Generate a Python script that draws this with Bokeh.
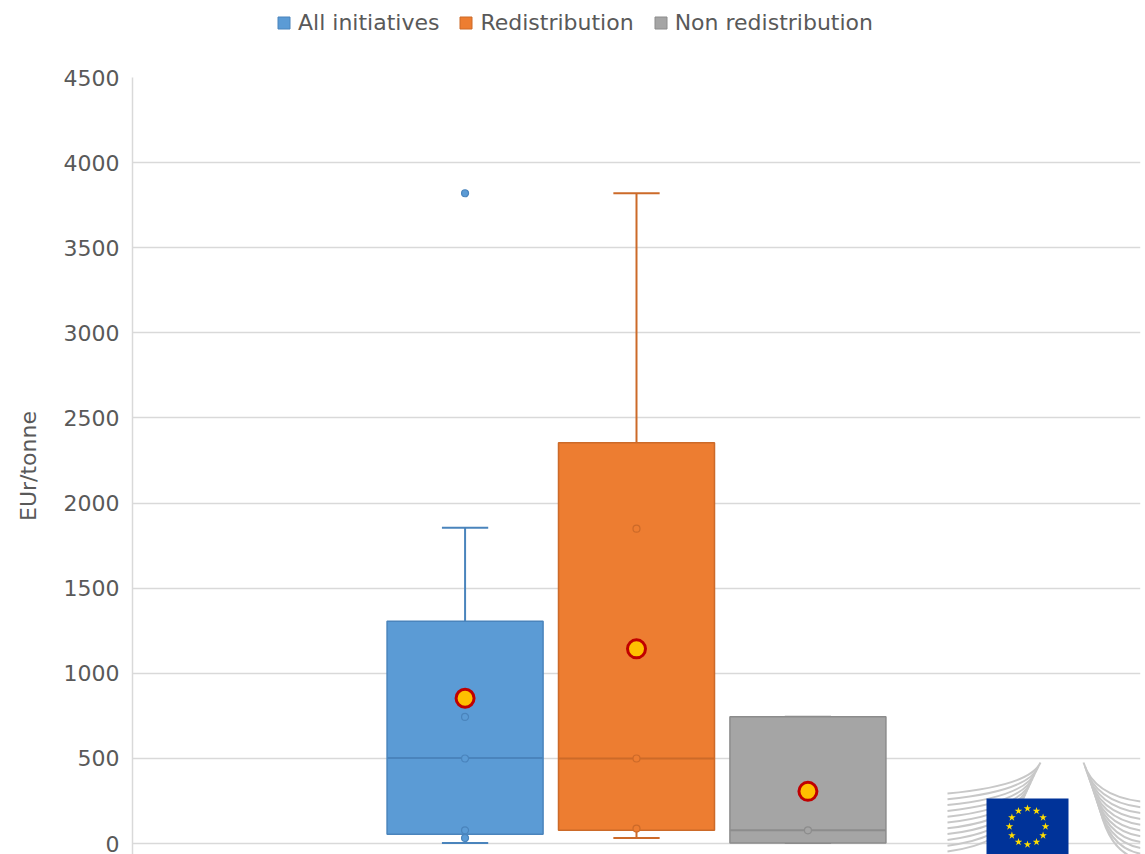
import math
from bokeh.plotting import figure
from bokeh.layouts import column
from bokeh.models import Range1d, FixedTicker, Legend, LegendItem
from bokeh.embed import file_html
from bokeh.resources import INLINE

# ---------------- data ----------------
series = ["All initiatives", "Redistribution", "Non redistribution"]
fill_colors = ["#5B9BD5", "#ED7D31", "#A5A5A5"]
line_colors = ["#4A84BC", "#CC6A29", "#8C8C8C"]

whisker_low = [3, 33, 3]
q1 = [55, 78, 3]
median = [503, 500, 78]
q3 = [1306, 2355, 745]
whisker_high = [1855, 3820, 745]
mean = [854, 1144, 307]
inner_points = [[33, 78, 500, 744], [88, 500, 1850], [78]]
outliers = [[3820], [], []]

y_ticks = [0, 500, 1000, 1500, 2000, 2500, 3000, 3500, 4000, 4500]

FONT = "DejaVu Sans"
TXT = "#595959"

X0, X1 = -0.94, 4.94
Y0, Y1 = -64, 4500

p = figure(width=1145, height=789, output_backend="svg", toolbar_location=None,
           x_range=Range1d(X0, X1), y_range=Range1d(Y0, Y1),
           x_axis_location=None, min_border_left=132, min_border_right=5,
           min_border_top=12, min_border_bottom=0)
p.outline_line_color = None
p.xgrid.grid_line_color = None
p.ygrid.grid_line_color = "#D9D9D9"
p.ygrid.grid_line_width = 1.5
p.yaxis.ticker = FixedTicker(ticks=y_ticks)
p.yaxis.axis_line_color = "#D9D9D9"
p.yaxis.axis_line_width = 1.5
p.yaxis.major_tick_line_color = None
p.yaxis.minor_tick_line_color = None
p.yaxis.major_tick_out = 0
p.yaxis.major_tick_in = 0
p.yaxis.major_label_standoff = 13
p.yaxis.major_label_text_font = FONT
p.yaxis.major_label_text_font_size = "22px"
p.yaxis.major_label_text_color = TXT
p.yaxis.axis_label = "EUr/tonne"
p.yaxis.axis_label_text_font = FONT
p.yaxis.axis_label_text_font_size = "22px"
p.yaxis.axis_label_text_font_style = "normal"
p.yaxis.axis_label_text_color = TXT
p.yaxis.axis_label_standoff = 20

# ---------------- EU logo (decoration) ----------------
def px_x(px):
    return X0 + (px - 132) * (X1 - X0) / 1008.0

def px_y(py):
    return Y0 + (854 - py) * (Y1 - Y0) / 777.0

for i in range(11):
    yl = 793 + 5.8 * i
    ye = 762 + 4.0 * i
    p.quadratic(x0=[px_x(947)], y0=[px_y(yl)], x1=[px_x(1040 - 2 * i)], y1=[px_y(ye)],
                cx=[px_x(1030 - 2 * i)], cy=[px_y(yl - 8)], line_color="#C8C8C8", line_width=2)
    p.quadratic(x0=[px_x(1083 + 1.5 * i)], y0=[px_y(ye)], x1=[px_x(1140)], y1=[px_y(yl + 8)],
                cx=[px_x(1093 + 1.5 * i)], cy=[px_y(yl + 2)], line_color="#C8C8C8", line_width=2)
p.quad(left=[px_x(986)], right=[px_x(1068)], top=[px_y(798)], bottom=[Y0],
       fill_color="#003399", line_color=None)
sx = [px_x(1027 + 18 * math.sin(2 * math.pi * k / 12)) for k in range(12)]
sy = [px_y(826 - 18 * math.cos(2 * math.pi * k / 12)) for k in range(12)]
p.scatter(sx, sy, marker="star", size=8, fill_color="#FFDD00", line_color=None)

# ---------------- boxes ----------------
BOX_W = 0.91
CAP_W = 0.27
for i, name in enumerate(series):
    xc = i + 1
    fc, lc = fill_colors[i], line_colors[i]
    p.segment(x0=[xc, xc], y0=[q3[i], q1[i]], x1=[xc, xc], y1=[whisker_high[i], whisker_low[i]],
              line_color=lc, line_width=2)
    p.segment(x0=[xc - CAP_W / 2] * 2, x1=[xc + CAP_W / 2] * 2,
              y0=[whisker_high[i], whisker_low[i]], y1=[whisker_high[i], whisker_low[i]],
              line_color=lc, line_width=2)
    p.vbar(x=[xc], width=BOX_W, bottom=[q1[i]], top=[q3[i]], fill_color=fc,
           line_color=lc, line_width=1.5)
    p.segment(x0=[xc - BOX_W / 2], x1=[xc + BOX_W / 2], y0=[median[i]], y1=[median[i]],
              line_color=lc, line_width=2)
    if inner_points[i]:
        p.scatter([xc] * len(inner_points[i]), inner_points[i], size=7, fill_color=fc,
                  line_color=lc, line_width=1.2)
    if outliers[i]:
        p.scatter([xc] * len(outliers[i]), outliers[i], size=7, fill_color=fc,
                  line_color=lc, line_width=1.2)
    p.scatter([xc], [mean[i]], size=18, fill_color="#FFC000", line_color="#C00000",
              line_width=3)

# ---------------- legend strip above the plot ----------------
lf = figure(width=1145, height=65, output_backend="svg", toolbar_location=None,
            x_range=Range1d(0, 1), y_range=Range1d(0, 1),
            x_axis_location=None, y_axis_location=None, min_border=0)
lf.outline_line_color = None
lf.grid.visible = False
items = []
for i, name in enumerate(series):
    # proxy swatches, kept far outside the visible range
    r = lf.vbar(x=[-50], bottom=[-60], top=[-50], width=0.1, fill_color=fill_colors[i],
                line_color=line_colors[i], line_width=1)
    items.append(LegendItem(label=name, renderers=[r]))
legend = Legend(items=items, orientation="horizontal", location=(144, 30),
                label_text_font=FONT, label_text_font_size="22px", label_text_color=TXT,
                glyph_width=15, glyph_height=15, label_standoff=7, spacing=19,
                padding=0, margin=0, border_line_color=None, background_fill_alpha=0)
lf.add_layout(legend, "center")

layout = column(lf, p, spacing=0)
open("out.html", "w").write(file_html(layout, INLINE))
